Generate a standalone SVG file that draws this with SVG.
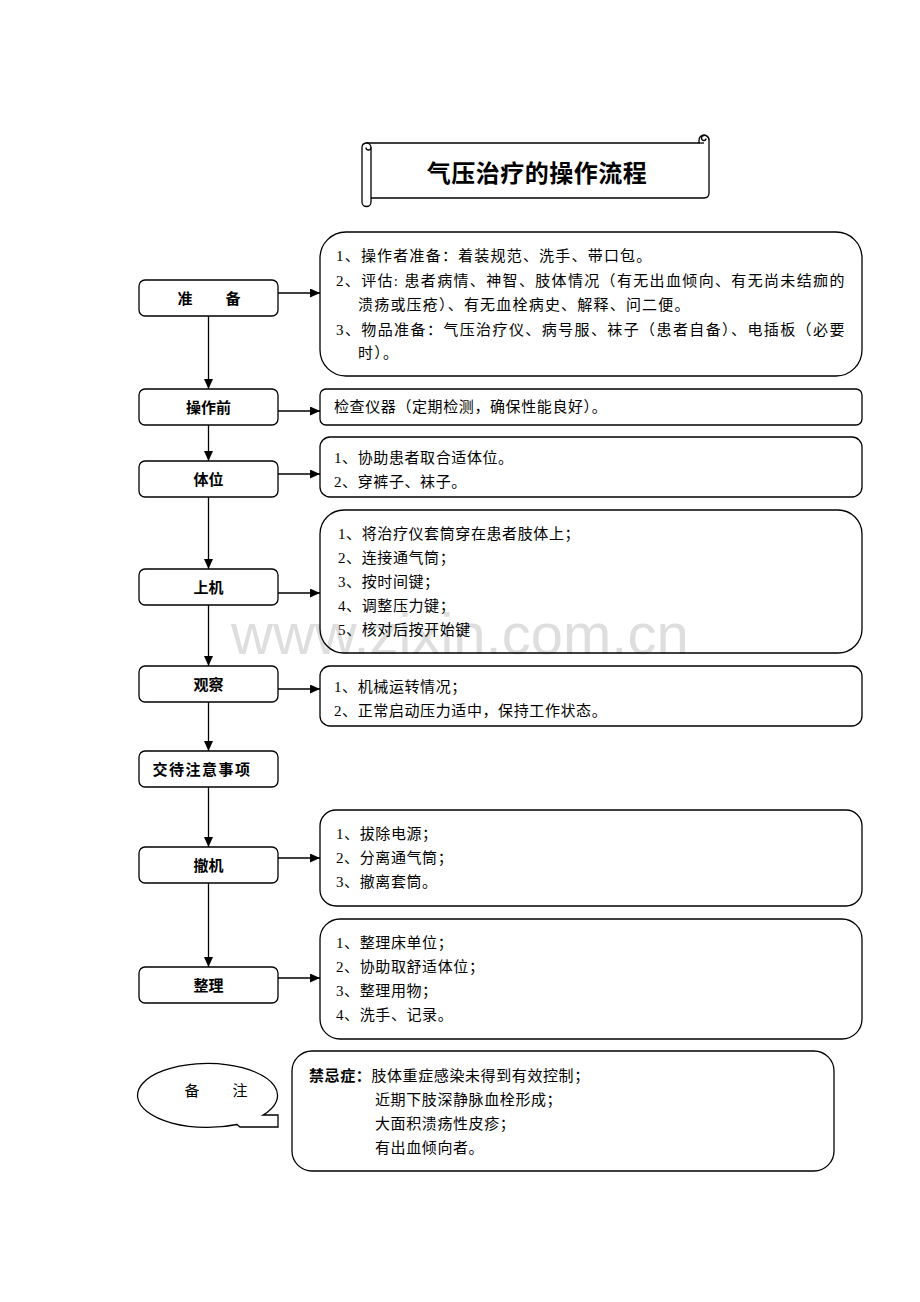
<svg xmlns="http://www.w3.org/2000/svg" width="920" height="1302" viewBox="0 0 920 1302">
<defs>
<style>
.bx{fill:none;stroke:#000;stroke-width:1.3}
.lbl{font-family:"Liberation Sans","Noto Sans CJK SC",sans-serif;font-size:15px;font-weight:bold;fill:#000;text-anchor:middle}
.t{font-family:"Liberation Serif","Noto Sans CJK SC",serif;font-size:15px;fill:#000;letter-spacing:0.6px}
.t1{letter-spacing:1.2px}
.b{font-family:"Liberation Sans","Noto Sans CJK SC",sans-serif;font-weight:bold}
.ln{fill:none;stroke:#000;stroke-width:1.3;marker-end:url(#ah)}
</style>
<marker id="ah" markerUnits="userSpaceOnUse" markerWidth="10" markerHeight="9" refX="10" refY="4.5" orient="auto">
<path d="M0,0 L10,4.5 L0,9 Z" fill="#000"/>
</marker>
</defs>
<rect width="920" height="1302" fill="#fff"/>
<text x="231" y="654" font-family="Liberation Sans,Arial,sans-serif" font-size="58" fill="#dedede">www.zixin.com.cn</text>

<g id="title">
<path class="bx" d="M371,198 L704,198 Q709,198 709,193 L709,140 A5,5 0 0 0 699,140 L699,143 L366,143 A4.5,4.5 0 0 0 362,147.5 L362,202 A4.5,4.5 0 0 0 371,202 L371,147.5"/>
<path class="bx" d="M366,143 A4.5,4.5 0 0 1 371,147.5 A2.5,2.5 0 0 1 366,147.5" />
<path class="bx" d="M704,135.5 A4.5,4.5 0 0 1 709,140 M704,135.5 A2.5,2.5 0 0 0 704,140.5 A2,2 0 0 0 706,138.5"/>
<path class="bx" d="M699,143 L704,143"/>
<text x="537" y="182" text-anchor="middle" font-family="Liberation Sans,Noto Sans CJK SC,sans-serif" font-size="24" font-weight="bold" letter-spacing="0.5">气压治疗的操作流程</text>
</g>

<g id="n1"><rect class="bx" x="139" y="280" width="139" height="36" rx="6"/><text class="lbl" x="185" y="304">准</text><text class="lbl" x="233" y="304">备</text></g>
<g id="n2"><rect class="bx" x="139" y="389" width="139" height="36" rx="6"/><text class="lbl" x="208.5" y="413">操作前</text></g>
<g id="n3"><rect class="bx" x="139" y="461" width="139" height="36" rx="6"/><text class="lbl" x="208.5" y="485">体位</text></g>
<g id="n4"><rect class="bx" x="139" y="569" width="139" height="36" rx="6"/><text class="lbl" x="208.5" y="593">上机</text></g>
<g id="n5"><rect class="bx" x="139" y="666" width="139" height="36" rx="6"/><text class="lbl" x="208.5" y="690">观察</text></g>
<g id="n6"><rect class="bx" x="139" y="751" width="139" height="36" rx="6"/><text class="lbl" x="202" y="775" style="letter-spacing:1.5px">交待注意事项</text></g>
<g id="n7"><rect class="bx" x="139" y="847" width="139" height="36" rx="6"/><text class="lbl" x="208.5" y="871">撤机</text></g>
<g id="n8"><rect class="bx" x="139" y="967" width="139" height="36" rx="6"/><text class="lbl" x="208.5" y="991">整理</text></g>

<g id="d1"><rect class="bx" x="320" y="232" width="542" height="144" rx="26"/>
<text class="t t1" x="336" y="261">1、操作者准备：着装规范、洗手、带口包。</text>
<text class="t" x="336" y="286" textLength="509" lengthAdjust="spacing">2、评估: 患者病情、神智、肢体情况（有无出血倾向、有无尚未结痂的</text>
<text class="t t1" x="358" y="310">溃疡或压疮）、有无血栓病史、解释、问二便。</text>
<text class="t" x="336" y="335" textLength="509" lengthAdjust="spacing">3、物品准备：气压治疗仪、病号服、袜子（患者自备）、电插板（必要</text>
<text class="t t1" x="358" y="358">时）。</text></g>
<g id="d2"><rect class="bx" x="320" y="389" width="542" height="36" rx="6"/>
<text class="t" x="334" y="412">检查仪器（定期检测，确保性能良好）。</text></g>
<g id="d3"><rect class="bx" x="320" y="437" width="542" height="60" rx="10"/>
<text class="t" x="334" y="463">1、协助患者取合适体位。</text>
<text class="t" x="334" y="487">2、穿裤子、袜子。</text></g>
<g id="d4"><rect class="bx" x="320" y="510" width="542" height="143" rx="24"/>
<text class="t" x="338" y="539">1、将治疗仪套筒穿在患者肢体上；</text>
<text class="t" x="338" y="563">2、连接通气筒；</text>
<text class="t" x="338" y="587">3、按时间键；</text>
<text class="t" x="338" y="611">4、调整压力键；</text>
<text class="t" x="338" y="635">5、核对后按开始键</text></g>
<g id="d5"><rect class="bx" x="320" y="666" width="542" height="60" rx="10"/>
<text class="t" x="334" y="692">1、机械运转情况；</text>
<text class="t" x="334" y="716">2、正常启动压力适中，保持工作状态。</text></g>
<g id="d6"><rect class="bx" x="320" y="810" width="542" height="96" rx="16"/>
<text class="t" x="336" y="839">1、拔除电源；</text>
<text class="t" x="336" y="863">2、分离通气筒；</text>
<text class="t" x="336" y="887">3、撤离套筒。</text></g>
<g id="d7"><rect class="bx" x="320" y="919" width="542" height="120" rx="20"/>
<text class="t" x="336" y="948">1、整理床单位；</text>
<text class="t" x="336" y="972">2、协助取舒适体位；</text>
<text class="t" x="336" y="996">3、整理用物；</text>
<text class="t" x="336" y="1020">4、洗手、记录。</text></g>

<g id="note-callout">
<path class="bx" d="M237,1124.5 A70,32 0 1 1 263,1115 L278,1115 L278,1127 L240,1127 Z"/>
<text x="192" y="1096" font-family="Liberation Serif,Noto Sans CJK SC,serif" font-size="15" text-anchor="middle">备</text>
<text x="240" y="1096" font-family="Liberation Serif,Noto Sans CJK SC,serif" font-size="15" text-anchor="middle">注</text>
</g>
<g id="note">
<rect class="bx" x="292" y="1051" width="542" height="120" rx="20"/>
<text class="t" x="309" y="1081"><tspan class="b">禁忌症：</tspan>肢体重症感染未得到有效控制；</text>
<text class="t" x="375" y="1105">近期下肢深静脉血栓形成；</text>
<text class="t" x="375" y="1129">大面积溃疡性皮疹；</text>
<text class="t" x="375" y="1153">有出血倾向者。</text>
</g>

<g id="connectors">
<line class="ln" x1="208.5" y1="316" x2="208.5" y2="389"/>
<line class="ln" x1="208.5" y1="425" x2="208.5" y2="461"/>
<line class="ln" x1="208.5" y1="497" x2="208.5" y2="569"/>
<line class="ln" x1="208.5" y1="605" x2="208.5" y2="666"/>
<line class="ln" x1="208.5" y1="702" x2="208.5" y2="751"/>
<line class="ln" x1="208.5" y1="787" x2="208.5" y2="847"/>
<line class="ln" x1="208.5" y1="883" x2="208.5" y2="967"/>
<line class="ln" x1="278" y1="293" x2="320" y2="293"/>
<line class="ln" x1="278" y1="411" x2="320" y2="411"/>
<line class="ln" x1="278" y1="474" x2="320" y2="474"/>
<line class="ln" x1="278" y1="593" x2="320" y2="593"/>
<line class="ln" x1="278" y1="689" x2="320" y2="689"/>
<line class="ln" x1="278" y1="858" x2="320" y2="858"/>
<line class="ln" x1="278" y1="978" x2="320" y2="978"/>
</g>
</svg>
